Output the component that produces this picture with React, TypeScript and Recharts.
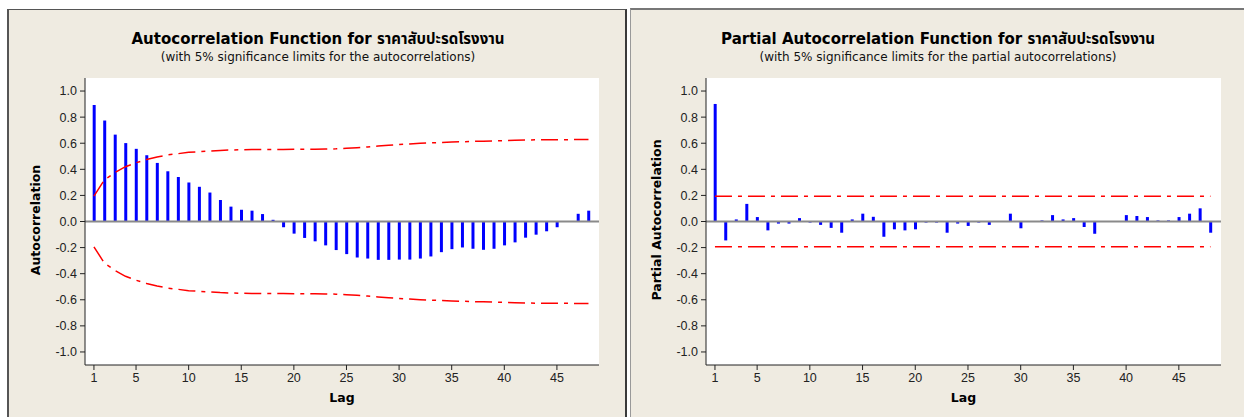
import React from 'react';
import { ComposedChart, Bar, Line, XAxis, YAxis, ReferenceLine } from 'recharts';

const lags = [1,2,3,4,5,6,7,8,9,10,11,12,13,14,15,16,17,18,19,20,21,22,23,24,25,26,27,28,29,30,31,32,33,34,35,36,37,38,39,40,41,42,43,44,45,46,47,48];

const acfValues = [0.893,0.774,0.666,0.601,0.557,0.508,0.449,0.385,0.341,0.299,0.266,0.222,0.165,0.114,0.090,0.083,0.057,0.013,-0.044,-0.093,-0.126,-0.152,-0.183,-0.219,-0.250,-0.276,-0.284,-0.294,-0.294,-0.292,-0.292,-0.284,-0.268,-0.235,-0.212,-0.199,-0.209,-0.217,-0.209,-0.183,-0.160,-0.124,-0.101,-0.075,-0.044,0.004,0.059,0.083];

const acfLimit = [0.194,0.32,0.375,0.42,0.45,0.475,0.495,0.51,0.52,0.53,0.535,0.54,0.545,0.548,0.55,0.551,0.552,0.552,0.552,0.553,0.553,0.554,0.555,0.557,0.561,0.566,0.572,0.578,0.584,0.59,0.595,0.599,0.603,0.606,0.609,0.611,0.614,0.616,0.618,0.62,0.623,0.625,0.626,0.627,0.627,0.627,0.628,0.628];

const pacfValues = [0.901,-0.145,0.016,0.135,0.034,-0.068,-0.016,-0.016,0.026,-0.008,-0.026,-0.049,-0.086,0.016,0.060,0.036,-0.117,-0.060,-0.068,-0.060,-0.008,-0.008,-0.086,-0.016,-0.034,-0.008,-0.026,0.003,0.060,-0.052,-0.003,0.008,0.049,0.016,0.026,-0.042,-0.094,0.002,-0.002,0.049,0.042,0.034,0.008,0.008,0.034,0.060,0.101,-0.086];

const pacfLimit = 0.193;

const xTicks = [1,5,10,15,20,25,30,35,40,45];
const yTicks = [-1.0,-0.8,-0.6,-0.4,-0.2,0.0,0.2,0.4,0.6,0.8,1.0];

const thaiName = 'ราคาสับปะรดโรงงาน';

const acfData = lags.map((lag, i) => ({ lag, value: acfValues[i], upper: acfLimit[i], lower: -acfLimit[i] }));
const pacfData = lags.map((lag, i) => ({ lag, value: pacfValues[i] }));

const FONT = '"DejaVu Sans", Verdana, "Noto Sans Thai", sans-serif';
const TICKFONT = '"Liberation Sans", Arial, sans-serif';
const RED = '#ff0000';
const DASH = '17 6 4 6';

const tickStyle = { fontSize: 12.5, fill: '#222', fontFamily: TICKFONT };

function Panel(props: {
  title: string; subtitle: string; yLabel: string;
  data: any[]; isAcf: boolean; chartLeft: number; chartWidth: number; marginLeft: number; marginRight: number;
  titleCenter: number; yLabelX: number;
}) {
  const { data, isAcf } = props;
  return (
    <>
      <div style={{ position: 'absolute', left: props.titleCenter - 300, width: 600, top: 30, textAlign: 'center', fontFamily: FONT, fontWeight: 'bold', fontSize: 15, color: '#000', lineHeight: '19px' }}>
        {props.title}
      </div>
      <div style={{ position: 'absolute', left: props.titleCenter - 300, width: 600, top: 50, textAlign: 'center', fontFamily: FONT, fontSize: 12, color: '#111', lineHeight: '15px' }}>
        {props.subtitle}
      </div>
      <div style={{ position: 'absolute', left: props.yLabelX - 150, top: 212, width: 300, height: 16, textAlign: 'center', transform: 'rotate(-90deg)', fontFamily: FONT, fontWeight: 'bold', fontSize: 12.5, lineHeight: '16px', color: '#000' }}>
        {props.yLabel}
      </div>
      <div style={{ position: 'absolute', left: props.chartLeft, top: 0 }}>
        <ComposedChart width={props.chartWidth} height={417} data={data}
          margin={{ top: 78, right: props.marginRight, bottom: 7, left: props.marginLeft }}>
          <XAxis dataKey="lag" type="number" domain={[0.15, 49]} ticks={xTicks} allowDataOverflow
            tick={tickStyle} tickSize={5} tickMargin={3} height={45}
            axisLine={{ stroke: '#222' }} tickLine={{ stroke: '#222' }}
            label={{ value: 'Lag', position: 'insideBottom', offset: 8, style: { fontSize: 12.5, fontWeight: 'bold', fill: '#000', fontFamily: FONT } }} />
          <XAxis xAxisId="top" dataKey="lag" type="number" orientation="top" domain={[0.15, 49]} height={0}
            tick={false} tickLine={false} axisLine={{ stroke: '#222' }} allowDataOverflow />
          <YAxis type="number" domain={[-1.1, 1.1]} ticks={yTicks} allowDataOverflow width={50}
            tick={tickStyle} tickSize={5} tickMargin={3} tickFormatter={(v: number) => v.toFixed(1)}
            axisLine={{ stroke: '#222' }} tickLine={{ stroke: '#222' }} />
          <YAxis yAxisId="right" orientation="right" type="number" domain={[-1.1, 1.1]} width={0}
            tick={false} tickLine={false} axisLine={{ stroke: '#222' }} />
          <ReferenceLine y={0} stroke="#8a8a8a" strokeWidth={2} />
          <Bar dataKey="value" fill="#0000ff" barSize={3} isAnimationActive={false} />
          {isAcf && <Line dataKey="upper" type="linear" stroke={RED} strokeWidth={1.5} strokeDasharray={DASH} dot={false} activeDot={false} isAnimationActive={false} />}
          {isAcf && <Line dataKey="lower" type="linear" stroke={RED} strokeWidth={1.5} strokeDasharray={DASH} dot={false} activeDot={false} isAnimationActive={false} />}
          {!isAcf && <ReferenceLine segment={[{ x: 1, y: pacfLimit }, { x: 48, y: pacfLimit }]} stroke={RED} strokeWidth={1.5} strokeDasharray={DASH} />}
          {!isAcf && <ReferenceLine segment={[{ x: 1, y: -pacfLimit }, { x: 48, y: -pacfLimit }]} stroke={RED} strokeWidth={1.5} strokeDasharray={DASH} />}
        </ComposedChart>
      </div>
    </>
  );
}

export default function App() {
  return (
    <div style={{ position: 'absolute', left: 0, top: 0, width: 1244, height: 417, overflow: 'hidden', background: '#fff' }}>
      <div style={{ position: 'absolute', left: 7, top: 9, width: 620, height: 420, background: '#efebe1', borderTop: '1px solid #555', borderLeft: '2px solid #555', borderRight: '2px solid #3a3a3a', boxSizing: 'border-box' }} />
      <div style={{ position: 'absolute', left: 630, top: 8, width: 620, height: 420, background: '#efebe1', borderTop: '2px solid #777', borderLeft: '1px solid #999', boxSizing: 'border-box' }} />
      <div style={{ position: 'absolute', left: 85, top: 78, width: 514, height: 287, background: '#fff' }} />
      <div style={{ position: 'absolute', left: 706, top: 78, width: 515, height: 287, background: '#fff' }} />
      <Panel title={'Autocorrelation Function for ' + thaiName}
        subtitle="(with 5% significance limits for the autocorrelations)" yLabel="Autocorrelation"
        data={acfData} isAcf={true} chartLeft={0} chartWidth={628} marginLeft={35} marginRight={29}
        titleCenter={318} yLabelX={36} />
      <Panel title={'Partial Autocorrelation Function for ' + thaiName}
        subtitle="(with 5% significance limits for the partial autocorrelations)" yLabel="Partial Autocorrelation"
        data={pacfData} isAcf={false} chartLeft={630} chartWidth={614} marginLeft={26} marginRight={23}
        titleCenter={938} yLabelX={657} />
    </div>
  );
}
